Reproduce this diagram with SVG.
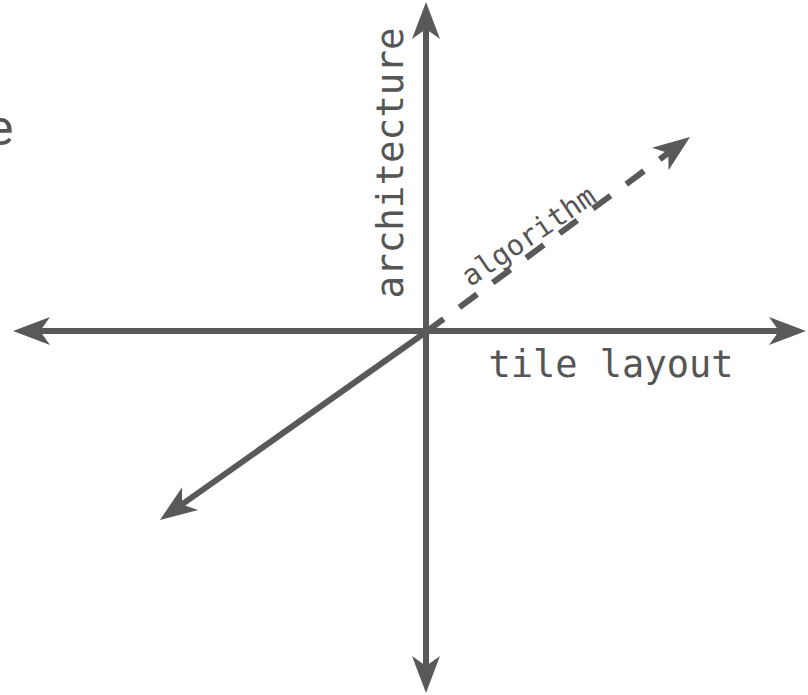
<svg xmlns="http://www.w3.org/2000/svg" width="808" height="695" viewBox="0 0 808 695">
<style>
.ax{fill:none;stroke:#595959;stroke-width:6;}
.dash{stroke-dasharray:22 19.5;}
.mono{font-family:"DejaVu Sans Mono","Liberation Mono",monospace;fill:#555555;}
.sans{font-family:Roboto,"Liberation Sans",sans-serif;fill:#555555;}
</style>
<defs>
<marker id="ah" markerUnits="userSpaceOnUse" markerWidth="50" markerHeight="40" viewBox="-2 -20 50 40" refX="10" refY="0" orient="auto-start-reverse">
<path d="M0,-14 L37,0 L0,14 L10,0 Z" fill="#595959"/>
</marker>
</defs>
<rect width="808" height="695" fill="#ffffff"/>
<g id="connectors">
<path id="x-axis" class="ax" d="M40,331 H779" marker-start="url(#ah)" marker-end="url(#ah)"/>
<path id="y-axis" class="ax" d="M426,29 V666" marker-start="url(#ah)" marker-end="url(#ah)"/>
<path id="z-neg" class="ax" d="M426,332 L182,504.4" marker-end="url(#ah)"/>
<path id="z-pos" class="ax dash" d="M426,332 L668.3,153" marker-end="url(#ah)"/>
</g>
<g id="label-architecture">
<text class="mono" font-size="37.5" text-anchor="middle" transform="translate(403,163) rotate(-90)">architecture</text>
</g>
<g id="label-tile-layout">
<text class="mono" x="611" y="377" font-size="37" text-anchor="middle">tile layout</text>
</g>
<g id="label-algorithm">
<text class="mono" font-size="28.5" text-anchor="middle" transform="translate(534,244) rotate(-34)">algorithm</text>
</g>
<g id="label-partial">
<text class="sans" x="-13" y="145" font-size="50">e</text>
</g>
</svg>
